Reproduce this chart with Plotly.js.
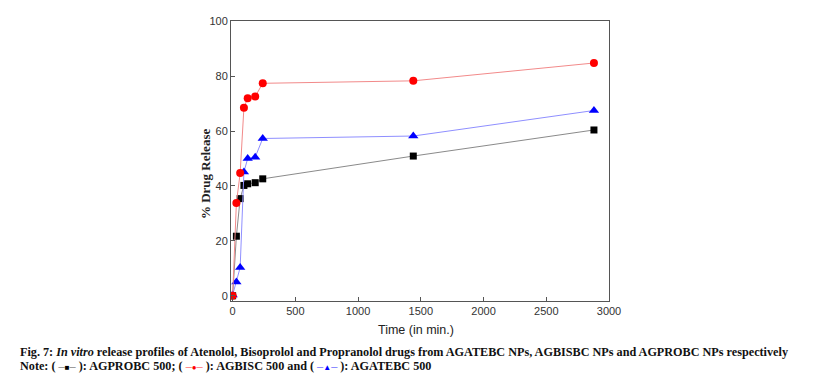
<!DOCTYPE html>
<html><head><meta charset="utf-8">
<script src="https://cdn.plot.ly/plotly-3.0.1.min.js"></script>
<style>html,body{margin:0;padding:0;background:#fff}#chart{width:824px;height:385px}</style>
</head><body><div id="chart"></div>
<script>
const timeMin = [0, 30, 60, 90, 120, 180, 240, 1440, 2880];
const agprobc = [0, 21.7, 35.4, 40.2, 40.8, 41.2, 42.6, 50.9, 60.4];
const agbisc  = [0, 33.8, 44.7, 68.5, 72.0, 72.6, 77.4, 78.3, 84.8];
const agatebc = [0.3, 5.0, 10.3, 45.1, 50.0, 50.5, 57.3, 58.2, 67.5];
const xTicks = [0, 500, 1000, 1500, 2000, 2500, 3000];
const yTicks = [0, 20, 40, 60, 80, 100];

const traces = [
  {x: timeMin, y: agprobc, name: 'AGPROBC 500', mode: 'lines+markers',
   line: {color: '#8a8a8a', width: 1}, marker: {symbol: 'square', size: 7, color: '#000'}},
  {x: timeMin, y: agatebc, name: 'AGATEBC 500', mode: 'lines+markers',
   line: {color: '#8f8fff', width: 1}, marker: {symbol: 'triangle-up', size: 9, color: '#0000ff'}},
  {x: timeMin, y: agbisc, name: 'AGBISC 500', mode: 'lines+markers',
   line: {color: '#f28a8a', width: 1}, marker: {symbol: 'circle', size: 8, color: '#ff0000'}}
];

const axisCommon = {
  showline: true, mirror: true, linecolor: '#555', linewidth: 1,
  ticks: 'inside', ticklen: 4, tickcolor: '#555', showgrid: false, zeroline: false,
  tickfont: {family: 'Liberation Sans, Arial, sans-serif', size: 11, color: '#333'}
};

const PW = 378.6; // plot width in px
const PH = 280;   // plot height in px
const xl = px => (px - 231) / PW;
const yl = py => (301 - py) / PH;

const layout = {
  width: 824, height: 385,
  margin: {l: 231, r: 215, t: 21, b: 84},
  paper_bgcolor: '#fff', plot_bgcolor: '#fff',
  showlegend: false,
  xaxis: Object.assign({}, axisCommon, {
    range: [-13, 3000], tickvals: xTicks, ticktext: xTicks.map(String)
  }),
  yaxis: Object.assign({}, axisCommon, {
    range: [-1.9, 100.1], tickvals: yTicks, ticktext: yTicks.map(String)
  }),
  annotations: [
    {xref: 'paper', yref: 'paper', x: xl(416.5), y: yl(330), xanchor: 'center', yanchor: 'middle',
     showarrow: false, text: 'Time (in min.)',
     font: {family: 'Liberation Sans, Arial, sans-serif', size: 12.5, color: '#222'}},
    {xref: 'paper', yref: 'paper', x: xl(205), y: yl(174), xanchor: 'center', yanchor: 'middle',
     showarrow: false, textangle: -90, text: '<b>% Drug Release</b>',
     font: {family: 'Liberation Serif, Times New Roman, serif', size: 13, color: '#222'}},
    {xref: 'paper', yref: 'paper', x: xl(18), y: yl(352), xanchor: 'left', yanchor: 'middle',
     showarrow: false, align: 'left',
     font: {family: 'Liberation Serif, Times New Roman, serif', size: 12.2, color: '#111'},
     text: '<b>Fig. 7: <i>In vitro</i> release profiles of Atenolol, Bisoprolol and Propranolol drugs from AGATEBC NPs, AGBISBC NPs and AGPROBC NPs respectively</b>'},
    {xref: 'paper', yref: 'paper', x: xl(18), y: yl(366), xanchor: 'left', yanchor: 'middle',
     showarrow: false, align: 'left',
     font: {family: 'Liberation Serif, Times New Roman, serif', size: 12.2, color: '#111'},
     text: '<b>Note: ( <span style="color:#999">–</span><span style="color:#000;font-size:8px">■</span><span style="color:#999">–</span> ): AGPROBC 500; ( <span style="color:#f88">–</span><span style="color:#f00;font-size:8px">●</span><span style="color:#f88">–</span> ): AGBISC 500 and ( <span style="color:#88f">–</span><span style="color:#00f;font-size:8px">▲</span><span style="color:#88f">–</span> ): AGATEBC 500</b>'}
  ]
};

Plotly.newPlot('chart', traces, layout, {displayModeBar: false, staticPlot: true});
</script>
</body></html>
